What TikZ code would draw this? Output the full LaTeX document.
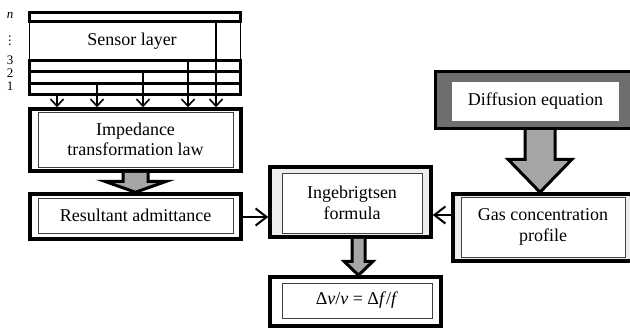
\documentclass[tikz,border=0pt]{standalone}
\usepackage{fontspec}
\setmainfont{Liberation Serif}
\newfontfamily\dotsfont{DejaVu Sans}
\usetikzlibrary{arrows.meta,calc}
\begin{document}
\begin{tikzpicture}[x=1pt,y=-1pt,
  txt/.style={font=\fontsize{18}{20.5}\selectfont, align=center},
  outerbox/.style={draw=black, line width=3.5pt, fill=white, inner sep=0pt},
  greybox/.style={draw=black, line width=3.5pt, fill=black!7, inner sep=0pt},
  darkbox/.style={draw=black, line width=3pt, fill=black!57, inner sep=0pt},
  innerbox/.style={draw=black!75, line width=0.9pt, fill=white, inner sep=0pt, txt},
  plainbox/.style={draw=none, fill=white, inner sep=0pt, txt},
  layerbox/.style={draw=black, line width=3pt, inner sep=0pt, minimum width=211},
  sensorbox/.style={draw=black, line width=1.1pt, inner sep=0pt, minimum width=211},
  conn/.style={draw=black, line width=1.6pt, -{Straight Barb[length=7pt,width=13pt]}},
  hconn/.style={draw=black, line width=2pt, -{Straight Barb[length=11pt,width=17pt]}},
  blockarrow/.style={draw=black, line width=3pt, fill=black!35, line join=miter},
  lbl/.style={font=\fontsize{13}{13}\selectfont, inner sep=0pt}
]
\useasboundingbox (0,0) rectangle (630,332);
\clip (0,0) rectangle (630,332);

% sensor stack
\node[sensorbox, minimum height=39] (ls) at (135,41) {};
\node[layerbox, minimum height=9] (ln) at (135,17) {};
\node[layerbox, minimum height=11] (l3) at (135,66) {};
\node[layerbox, minimum height=11.5] (l2) at (135,77.25) {};
\node[layerbox, minimum height=11.5] (l1) at (135,88.75) {};
\node[txt, inner sep=0pt] (stxt) at (132,41) {Sensor layer};

% left labels
\node[lbl] (lab-n) at (10,15) {\itshape n};
\node[lbl] (lab-d) at (10,41) {\dotsfont\fontsize{12}{12}\selectfont ⋮};
\node[lbl] (lab-3) at (10,60.5) {3};
\node[lbl] (lab-2) at (10,73) {2};
\node[lbl] (lab-1) at (10,86.5) {1};

% main boxes
\node[outerbox, minimum width=211, minimum height=62] (imp) at (135.5,140) {};
\node[innerbox, minimum width=195, minimum height=55] (impi) at (135.5,139.5) {Impedance\\transformation law};

\node[outerbox, minimum width=211, minimum height=45] (res) at (135.5,216.5) {};
\node[innerbox, minimum width=195, minimum height=35] (resi) at (135.5,215.5) {Resultant admittance};

\node[greybox, minimum width=161, minimum height=70] (ing) at (350.5,202) {};
\node[innerbox, minimum width=140, minimum height=60] (ingi) at (352,203) {Ingebrigtsen\\formula};

\node[outerbox, minimum width=171, minimum height=49] (dv) at (355.5,301.5) {};
\node[innerbox, minimum width=150, minimum height=35] (dvi) at (357,300.5)
  {Δ\textit{v}/\textit{v} = Δ\textit{f}/\textit{f}};

\node[greybox, minimum width=190, minimum height=67] (gas) at (548,227.5) {};
\node[innerbox, minimum width=164, minimum height=60] (gasi) at (543,227) {Gas concentration\\profile};

\node[darkbox, minimum width=210, minimum height=57] (dif) at (540.5,100) {};
\node[plainbox, minimum width=167, minimum height=39] (difi) at (535.5,101) {Diffusion equation};

% connectors from layers
\coordinate (x1) at (57,0);
\coordinate (x2) at (97,0);
\coordinate (x3) at (143,0);
\coordinate (x4) at (188,0);
\coordinate (x5) at (216,0);
\draw[conn] (l1.south -| x1) -- (imp.north -| x1);
\draw[conn] (l2.south -| x2) -- (imp.north -| x2);
\draw[conn] (l3.south -| x3) -- (imp.north -| x3);
\draw[conn] (ls.south -| x4) -- (imp.north -| x4);
\draw[conn] (ln.south -| x5) -- (imp.north -| x5);

% horizontal arrows
\coordinate (ya) at (0,217);
\draw[hconn] (res.east |- ya) -- (ing.west |- ya);
\coordinate (yb) at (0,215);
\draw[hconn] (gas.west |- yb) -- (ing.east |- yb);

% block arrows
\draw[blockarrow] ($(imp.south)+(-12.5,0)$) -- ($(res.north)+(-12.5,-11)$) -- ($(res.north)+(-31,-11)$)
  -- (res.north) -- ($(res.north)+(31,-11)$) -- ($(res.north)+(12.5,-11)$) -- ($(imp.south)+(12.5,0)$);

\coordinate (xc) at (358.5,0);
\draw[blockarrow] ($(ing.south -| xc)+(-6.5,0)$) -- ($(dv.north -| xc)+(-6.5,-14)$) -- ($(dv.north -| xc)+(-14.5,-14)$)
  -- (dv.north -| xc) -- ($(dv.north -| xc)+(14.5,-14)$) -- ($(dv.north -| xc)+(6.5,-14)$) -- ($(ing.south -| xc)+(6.5,0)$);

\coordinate (xd) at (540,0);
\draw[blockarrow] ($(dif.south -| xd)+(-15,0)$) -- ($(gas.north -| xd)+(-15,-33)$) -- ($(gas.north -| xd)+(-32,-33)$)
  -- (gas.north -| xd) -- ($(gas.north -| xd)+(32,-33)$) -- ($(gas.north -| xd)+(15,-33)$) -- ($(dif.south -| xd)+(15,0)$);
\end{tikzpicture}
\end{document}
